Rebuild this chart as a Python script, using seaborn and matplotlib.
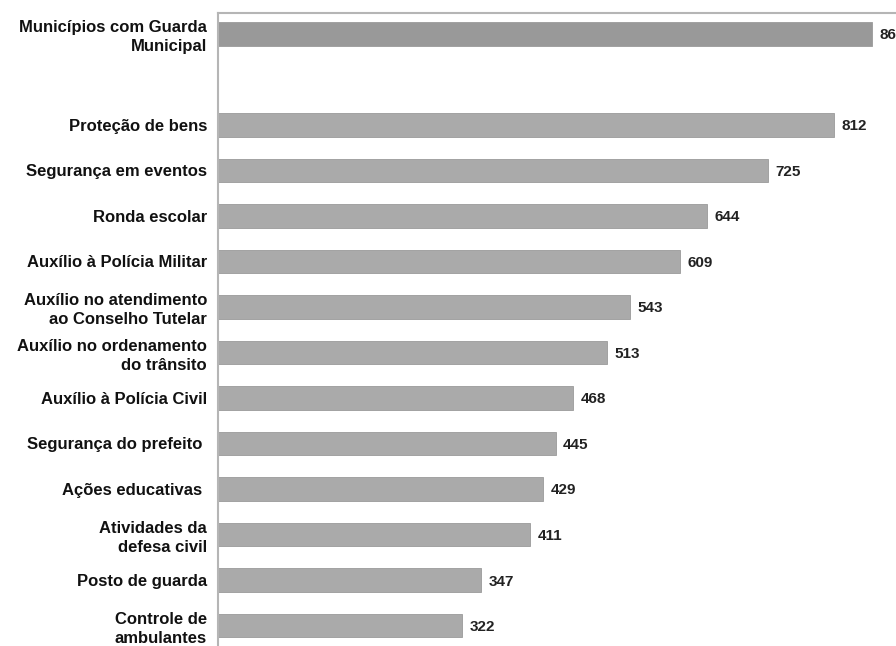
import matplotlib
matplotlib.use("Agg")
import matplotlib.pyplot as plt
import seaborn as sns
import pandas as pd

# dados
categorias = [
    "Municípios com Guarda\nMunicipal",
    "Proteção de bens",
    "Segurança em eventos",
    "Ronda escolar",
    "Auxílio à Polícia Militar",
    "Auxílio no atendimento\nao Conselho Tutelar",
    "Auxílio no ordenamento\ndo trânsito",
    "Auxílio à Polícia Civil",
    "Segurança do prefeito ",
    "Ações educativas ",
    "Atividades da\ndefesa civil",
    "Posto de guarda",
    "Controle de\nambulantes",
]
valores = [862, 812, 725, 644, 609, 543, 513, 468, 445, 429, 411, 347, 322]

def main():
    sns.set_theme(style="white")
    plt.rcParams["font.family"] = ["Liberation Sans", "DejaVu Sans"]

    df = pd.DataFrame({"categoria": categorias, "valor": valores})
    # linha em branco entre o total e as funções
    ordem = [categorias[0], "vazio"] + categorias[1:]
    cores = {c: "#aaaaaa" for c in categorias}
    cores[categorias[0]] = "#999999"

    fig = plt.figure(figsize=(8.96, 6.46), dpi=100)
    ax = fig.add_axes([218 / 896, 0, 1 - 218 / 896, 1 - 12.5 / 646])

    sns.barplot(data=df, x="valor", y="categoria", hue="categoria", order=ordem,
                palette=cores, legend=False, width=0.52, orient="h",
                edgecolor="#9a9a9a", linewidth=0.6, ax=ax)

    posicoes = [0] + list(range(2, len(categorias) + 1))
    for pos, v in zip(posicoes, valores):
        ax.text(v + 10, pos, str(v), va="center_baseline", ha="left",
                fontsize=11, fontweight="bold", color="#222222")

    ax.set_xlim(0, (896 - 218) / 0.7586)
    ax.set_ylim(13.45, -0.47)
    ax.set_xlabel("")
    ax.set_ylabel("")
    ax.set_xticks([])
    ax.set_yticks(posicoes, categorias)
    ax.tick_params(axis="y", length=0, pad=8)
    for lbl in ax.get_yticklabels():
        lbl.set_fontsize(12)
        lbl.set_fontweight("bold")
        lbl.set_color("#111111")
        lbl.set_linespacing(1.3)

    for s in ["right", "bottom"]:
        ax.spines[s].set_visible(False)
    for s in ["left", "top"]:
        ax.spines[s].set_color("#b5b5b5")
        ax.spines[s].set_linewidth(1.5)

    fig.savefig("out.png", dpi=100)

if __name__ == "__main__":
    main()
